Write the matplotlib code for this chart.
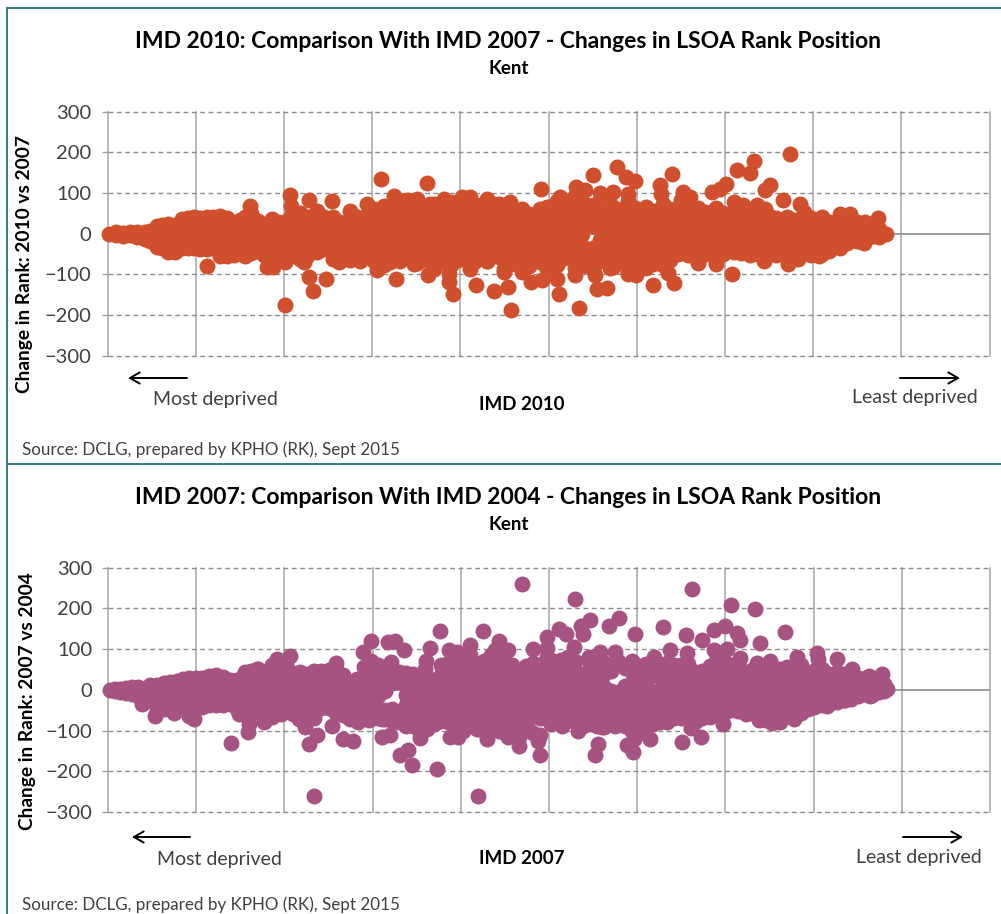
import matplotlib
matplotlib.use("Agg")
import matplotlib.pyplot as plt
from matplotlib.lines import Line2D

plt.rcParams['font.family'] = ['Lato', 'DejaVu Sans']

W, H = 1001, 914

yticks = [-300, -200, -100, 0, 100, 200, 300]
xgrid = [0, 100, 200, 300, 400, 500, 600, 700, 800, 900, 1000]

# points that stand clear of the main band, IMD 2010 vs 2007
imd2010_outer = [
    (201, -175), (207, 94), (208, 67), (228, 84), (255, 80), (162, 68), (113, -80), (229, -107), (248, -111),
    (233, -142), (310, 135), (362, 125), (325, 93), (327, -111), (305, -89), (418, -125), (438, -141),
    (392, -149), (387, -119), (387, -98), (363, -102), (411, -86), (402, 90), (411, 90), (430, 86), (438, 74),
    (381, 86), (351, 86), (340, 82), (366, 74), (188, -82), (181, -82), (223, -70), (201, -70), (262, -70),
    (286, -66), (347, -74), (421, -57), (430, -66), (774, 197), (733, 180), (714, 157), (728, 149), (640, 148),
    (550, 145), (578, 164), (588, 139), (598, 130), (492, 111), (531, 116), (541, 107), (558, 100), (573, 102),
    (590, 98), (626, 120), (628, 98), (653, 102), (660, 90), (685, 102), (694, 111), (701, 121), (710, 78),
    (721, 70), (736, 70), (745, 61), (751, 119), (745, 107), (766, 82), (785, 74), (830, 49), (842, 49),
    (859, 29), (874, 39), (883, 0), (513, 90), (456, 78), (471, 57), (500, 66), (458, -187), (535, -182),
    (512, -149), (454, -130), (555, -135), (566, -133), (480, -119), (493, -113), (510, -111), (530, -102),
    (553, -101), (619, -127), (642, -121), (636, -97), (599, -102), (590, -98), (708, -100), (670, -72),
    (690, -74), (744, -66), (772, -74), (783, -61), (807, -56), (830, -33), (855, -20), (728, -53), (647, -49),
    (626, -66), (470, -94), (449, -94), (502, -82), (573, -82),
]

# main band read column by column: x, then the changes seen at that x
imd2010_band = [
    (2, [0]), (10, [-3, 3]), (18, [2, -6]), (26, [-4, 4]), (34, [3, -8]), (42, [-2, 5, -14]), (48, [6, -18]),
    (56, [18, -8, -32]), (62, [22, -5, -22, -36]), (69, [25, 0, -25, -46]), (76, [22, -8, -30, -44]),
    (84, [36, 10, -15, -36]), (91, [38, 14, -12, -35]), (98, [40, 12, -14, -34]), (105, [38, 10, -18, -38]),
    (113, [40, 14, -12, -38]), (120, [42, 16, -10, -36]), (128, [43, 18, -8, -34, -54]),
    (135, [38, 10, -18, -45, -55]), (143, [27, 0, -26, -52]), (150, [34, 8, -18, -44]),
    (156, [40, 14, -12, -38, -56]), (163, [50, 24, -2, -28, -48]), (171, [32, 6, -20, -42]),
    (178, [20, -6, -30, -52]), (186, [35, 9, -17, -43, -70]), (193, [30, 2, -24, -50, -68]),
    (200, [30, 4, -22, -48, -64]), (208, [44, 18, -8, -34, -55]), (218, [52, 26, 0, -26, -50, -62]),
    (226, [40, 14, -12, -38, -55]), (237, [56, 30, 4, -22, -46]), (245, [40, 14, -12, -38]),
    (256, [40, 14, -12, -38, -62]), (264, [30, 4, -22, -48]), (275, [56, 30, 4, -22, -48, -64]),
    (283, [42, 16, -10, -36, -60]), (294, [72, 46, 20, -6, -32, -58]), (302, [60, 34, 8, -18, -44, -68]),
    (313, [68, 42, 16, -10, -36, -62, -76]), (320, [55, 29, 3, -23, -49, -70]),
    (332, [80, 54, 28, 2, -24, -50, -68]), (340, [66, 40, 14, -12, -38, -60]),
    (351, [80, 54, 28, 2, -24, -50, -72]), (358, [66, 40, 14, -12, -38, -64]),
    (370, [72, 46, 20, -6, -32, -58, -86]), (378, [60, 34, 8, -18, -44, -70]),
    (389, [78, 52, 26, 0, -26, -52, -78]), (397, [66, 40, 14, -12, -38, -64]),
    (408, [78, 52, 26, 0, -26, -60]), (416, [66, 40, 14, -12, -38, -70]), (423, [70, 44, 18, -8, -34, -58]),
    (430, [78, 52, 26, 0, -26, -68]),
    (438, [66, 40, 14, -14, -40]), (444, [72, 46, 20, -6, -32, -58]), (450, [70, 44, 18, -8, -34, -60, -88]),
    (458, [56, 30, 4, -22, -48, -74]),
    (470, [60, 34, 8, -18, -44, -70, -88]), (478, [48, 22, -4, -30, -56, -80]),
    (490, [60, 34, 8, -18, -44, -70]), (498, [66, 40, 14, -12, -38, -64, -86]),
    (510, [80, 54, 28, 2, -24, -50, -76]), (518, [70, 44, 18, -8, -34, -60]),
    (530, [92, 66, 40, 14, -10, -34, -60, -85]), (538, [80, 54, 28, 0, -30, -56, -80]),
    (550, [70, 44, 18, -36, -62, -86]), (558, [62, 36, 10, -16, -42, -68]),
    (570, [72, 46, 20, -6, -32, -58, -84]), (578, [60, 34, 8, -18, -44, -70]),
    (590, [80, 54, 28, 2, -24, -50, -76, -94]), (598, [64, 38, 12, -14, -40, -66, -88]),
    (610, [66, 40, 14, -12, -38, -64, -84]), (618, [56, 30, 4, -22, -48, -74]),
    (630, [72, 46, 20, -6, -32, -58, -76]), (638, [60, 34, 8, -18, -44, -64]),
    (650, [84, 58, 32, 6, -20, -46]), (658, [70, 44, 18, -8, -34, -52]), (670, [64, 38, 12, -14, -40, -66]),
    (678, [54, 28, 2, -24, -50]), (690, [64, 38, 12, -14, -40, -66]), (698, [50, 24, -2, -28, -50]),
    (710, [56, 30, 4, -22, -46]), (718, [46, 20, -6, -32, -48]), (730, [54, 28, 2, -24, -50]),
    (738, [46, 20, -6, -32, -50]), (750, [44, 18, -8, -34, -50]), (758, [38, 12, -14, -40, -52]),
    (770, [40, 14, -12, -38, -60]), (778, [34, 8, -18, -44, -58]), (790, [54, 28, 2, -24, -50]),
    (798, [38, 12, -14, -40, -52]), (810, [40, 14, -12, -38, -50]), (818, [30, 4, -22, -42]),
    (830, [36, 10, -16, -34]), (838, [28, 2, -24]), (850, [30, 4, -18]), (858, [22, -4, -22]),
    (868, [18, -6]), (875, [12, -8]),
]

# same again for IMD 2007 vs 2004
imd2007_outer = [
    (140, -130), (159, -104), (160, -84), (177, -80), (196, -59), (149, -59), (97, -71), (75, -57), (53, -65),
    (39, -34), (192, 76), (206, 82), (169, 52), (155, 43), (258, 66), (228, -133), (237, -111), (223, -92),
    (217, -71), (254, -88), (234, -260), (266, -120), (278, -125), (298, 120), (289, 93), (317, 117), (325, 121),
    (336, 98), (321, 68), (311, -115), (320, -112), (331, -161), (340, -147), (345, -184), (373, -194),
    (419, -260), (376, 144), (425, 144), (365, 102), (361, 72), (359, 52), (387, 97), (396, 94), (410, 109),
    (439, 98), (443, 121), (354, -118), (388, -116), (397, -116), (405, -92), (420, -80), (430, -120),
    (443, -100), (283, -80), (296, -75), (311, -71), (469, 259), (530, 224), (662, 247), (706, 209), (734, 199),
    (768, 142), (739, 115), (597, 138), (629, 154), (655, 135), (579, 176), (568, 157), (547, 172), (536, 158),
    (539, 138), (511, 150), (519, 138), (498, 130), (454, 98), (482, 101), (498, 102), (528, 105), (674, 123),
    (687, 146), (699, 156), (713, 139), (716, 123), (687, 97), (702, 101), (637, 98), (657, 90), (619, 80),
    (575, 93), (558, 93), (545, 80), (804, 90), (827, 76), (805, 76), (781, 80), (751, 72), (736, 66), (843, 52),
    (863, 35), (878, 38), (883, 2), (717, 79), (490, -159), (466, -137), (487, -126), (453, -115), (552, -161),
    (555, -133), (595, -153), (589, -135), (596, -120), (614, -120), (651, -129), (672, -115), (661, -94),
    (697, -84), (723, -59), (533, -100), (515, -88), (502, -84), (479, -100), (460, -100), (560, -92), (575, -88),
    (738, -75), (753, -82), (762, -80), (778, -71), (800, -43), (815, -39), (836, -26), (864, -16),
]

imd2007_band = [
    (2, [0]), (8, [2, -3]), (14, [3, -6]), (20, [5, -8]), (27, [6, -10]), (34, [6, -14]), (41, [3, -8, -20, -30]),
    (48, [12, -6, -24]), (56, [13, -8, -30, -50]), (63, [18, -4, -26, -48]), (70, [20, -2, -24, -46]),
    (78, [22, 0, -22, -44]), (85, [26, 2, -22, -46]), (92, [28, 4, -20, -44, -64]), (100, [28, 4, -20, -44]),
    (107, [30, 6, -18, -42]), (115, [34, 10, -14, -38]), (122, [36, 12, -12, -38]), (130, [32, 8, -16, -38]),
    (138, [25, 2, -20, -34]), (146, [25, 0, -24, -48]), (154, [36, 10, -16, -42, -60]),
    (162, [46, 20, -6, -32, -60]), (170, [50, 24, -2, -28, -54]), (178, [44, 18, -8, -34, -62]),
    (186, [60, 34, 8, -18, -44, -66]), (194, [70, 44, 18, -8, -34, -58]), (202, [60, 34, 8, -18, -44]),
    (210, [42, 16, -10, -36, -60]), (218, [44, 18, -8, -34, -60]), (226, [40, 14, -12, -38, -64]),
    (234, [46, 20, -6, -32, -58, -70]), (242, [46, 20, -6, -30, -44]), (250, [48, 22, -4, -30, -44]),
    (258, [50, 24, -2, -26, -58]), (266, [36, 10, -14, -38, -62]), (274, [20, -2, -24, -48, -72]),
    (282, [26, 4, -20, -44, -66]), (290, [56, 30, 6, -18, -42, -60]), (298, [70, 44, 18, -10, -36, -60]),
    (306, [62, 36, 10, -14, -50, -70]), (314, [48, 22, -4, -50, -72]), (322, [44, 18, -48, -76]),
    (330, [44, 20, -54, -80]), (338, [42, 16, -12, -38, -64, -90]), (346, [40, 14, -10, -36, -62, -90]),
    (354, [20, -4, -30, -56, -82, -104]), (362, [32, 6, -20, -46, -72, -96]), (370, [20, -6, -32, -58, -84]),
    (378, [62, 36, 10, -16, -42, -76]), (386, [66, 40, 14, -12, -50, -80]), (394, [58, 32, 6, -20, -46, -74, -96]),
    (402, [62, 36, 10, -16, -42, -70, -100]), (410, [86, 60, 34, 8, -18, -44, -76]),
    (418, [64, 38, 12, -14, -40, -66, -95]), (426, [70, 44, 18, -8, -34, -60, -100]),
    (434, [86, 60, 34, 8, -18, -44, -70, -92]), (442, [84, 58, 32, 6, -20, -46, -72, -96]),
    (450, [64, 38, 12, -14, -40, -66, -92, -105]), (458, [60, 34, 8, -18, -44, -70, -90]),
    (466, [40, 14, -12, -38, -64, -90, -115]), (474, [58, 32, 6, -20, -46, -80]),
    (482, [66, 40, 14, -12, -38, -64, -105]), (490, [62, 36, 10, -16, -42, -70, -110]),
    (498, [80, 54, 28, 2, -24, -50, -72]), (506, [70, 44, 18, -8, -34, -60, -80]),
    (514, [74, 48, 22, -4, -30, -56, -82]), (522, [80, 54, 28, 0, -30, -56]),
    (530, [72, 46, 20, -6, -32, -58, -80]), (538, [40, 14, -12, -38, -64, -88]),
    (546, [64, 38, 12, -14, -40, -66, -84]), (554, [60, 34, 8, -18, -44, -70, -90]),
    (562, [66, 40, 6, -20, -46, -72, -92]), (570, [46, -4, -30, -56, -82]), (578, [70, -6, -32, -58, -84]),
    (586, [54, 10, -16, -42, -68, -88]), (594, [70, 44, 18, -8, -34, -60, -100]),
    (602, [58, 32, -4, -30, -56, -82, -105]), (610, [64, 38, 12, -14, -40, -66, -90]),
    (618, [62, 36, -6, -32, -58, -84]), (626, [56, 30, -4, -30, -56, -80]),
    (634, [66, 40, 14, -12, -38, -64, -80]), (642, [60, 34, 8, -18, -44, -70]),
    (650, [60, 34, 8, -18, -44, -68]), (658, [64, 38, 12, -14, -40, -66]), (666, [44, 18, -8, -34, -60, -78]),
    (674, [46, 20, -6, -32, -58, -70]), (682, [58, 32, 6, -20, -46, -66]), (690, [80, 54, 28, 2, -24, -50]),
    (698, [70, 44, 18, -8, -34, -56]), (706, [60, 34, 8, -18, -40, -50]), (714, [64, 38, 12, -14, -40, -52]),
    (722, [44, 18, -8, -34, -56]), (730, [48, 22, -4, -30, -56]), (738, [52, 26, 0, -26, -52, -70]),
    (746, [48, 22, -4, -30, -56, -74]), (754, [56, 30, 4, -22, -48, -76]), (762, [50, 24, -2, -28, -54, -72]),
    (770, [56, 30, 4, -22, -48, -64]), (778, [52, 26, 0, -26, -52, -66]), (786, [62, 36, 10, -16, -42, -56]),
    (794, [40, 14, -12, -38, -46]), (802, [48, 22, -4, -30, -40]), (810, [52, 26, 0, -26, -36]),
    (818, [38, 12, -14, -34]), (826, [44, 18, -8, -30]), (834, [40, 14, -12, -26]), (842, [36, 10, -16, -22]),
    (850, [30, 4, -14]), (858, [28, 6, -10]), (866, [24, 0, -12]), (874, [22, 2, -6]), (880, [14, -4]),
]

ORANGE = '#D0502E'
PURPLE = '#A65382'
TEAL = '#2E7F82'
TEXT = '#404040'

fig = plt.figure(figsize=(W / 100, H / 100), dpi=100, facecolor='white')

# full size layer in pixels, for the captions and the frame
page = fig.add_axes([0, 0, 1, 1], zorder=5)
page.set_xlim(0, W)
page.set_ylim(H, 0)
page.axis('off')
page.patch.set_alpha(0)


def flatten(outer, band):
    xs = [p[0] for p in outer]
    ys = [p[1] for p in outer]
    for x, vals in band:
        for v in vals:
            xs.append(x)
            ys.append(v)
    return xs, ys


def draw_panel(left, right, top, bottom, outer, band, colour):
    ax = fig.add_axes([left / W, 1 - bottom / H, (right - left) / W, (bottom - top) / H])
    ax.set_xlim(0, 1000)
    ax.set_ylim(-300, 300)
    for g in xgrid:
        ax.axvline(g, color='#ABABAB', lw=1.2, zorder=1, clip_on=False)
    for t in yticks:
        if t != 0:
            ax.axhline(t, color='#8C8C8C', lw=1.0, ls=(0, (3.5, 2.5)), zorder=1, clip_on=False)
    ax.axhline(0, color='#8C8C8C', lw=1.2, zorder=1)
    xs, ys = flatten(outer, band)
    ax.scatter(xs, ys, s=132, color=colour, linewidths=0, zorder=3, clip_on=False)
    for s in ax.spines.values():
        s.set_visible(False)
    ax.set_xticks([])
    ax.set_yticks(yticks)
    ax.tick_params(axis='y', length=4.5, width=1.0, color='#A0A0A0', pad=7, labelsize=14.5, labelcolor=TEXT)
    ax.patch.set_alpha(0)
    return ax


def captions(title, title_y, ylabel, ylabel_x, ylabel_y, xlabel, arrow_y, left_arrow, right_arrow,
             most_x, most_y, least_x, least_y, xlabel_y, source_y):
    page.text(508, title_y, title, ha='center', va='center', fontsize=16.5, fontweight='bold', color='black')
    page.text(509, title_y + 27, 'Kent', ha='center', va='center', fontsize=13.5, fontweight='bold', color='black')
    page.text(ylabel_x, ylabel_y, ylabel, rotation=90, ha='center', va='center', fontsize=13.8,
              fontweight='bold', color='black')
    page.text(522, xlabel_y, xlabel, ha='center', va='center', fontsize=13.5, fontweight='bold', color='black')
    page.text(most_x, most_y, 'Most deprived', ha='left', va='center', fontsize=14, color=TEXT)
    page.text(least_x, least_y, 'Least deprived', ha='left', va='center', fontsize=14, color=TEXT)
    page.text(22, source_y, 'Source: DCLG, prepared by KPHO (RK), Sept 2015', ha='left', va='center',
              fontsize=12.25, color=TEXT)
    page.annotate('', xy=(left_arrow[0], arrow_y), xytext=(left_arrow[1], arrow_y),
                  arrowprops=dict(arrowstyle='->,head_length=0.7,head_width=0.4', color='black', lw=1.4,
                                  shrinkA=0, shrinkB=0))
    page.annotate('', xy=(right_arrow[1], arrow_y), xytext=(right_arrow[0], arrow_y),
                  arrowprops=dict(arrowstyle='->,head_length=0.7,head_width=0.4', color='black', lw=1.4,
                                  shrinkA=0, shrinkB=0))


draw_panel(107.5, 989.5, 111.7, 355.7, imd2010_outer, imd2010_band, ORANGE)
draw_panel(108, 990, 567.7, 812, imd2007_outer, imd2007_band, PURPLE)

captions('IMD 2010: Comparison With IMD 2007 - Changes in LSOA Rank Position', 42,
         'Change in Rank: 2010 vs 2007', 25, 264, 'IMD 2010', 378, (128, 187), (900, 960),
         153, 400, 852, 398, 404, 450)
captions('IMD 2007: Comparison With IMD 2004 - Changes in LSOA Rank Position', 498,
         'Change in Rank: 2007 vs 2004', 28, 701, 'IMD 2007', 837, (132, 190), (903, 963),
         157, 859, 856, 858, 859, 905)

# frame around the pasted charts, open on the right
for xs, ys in [((6.5, 6.5), (8, H)), ((6.5, W), (8, 8)), ((6.5, W), (464, 464))]:
    page.add_line(Line2D(xs, ys, color=TEAL, lw=1.4))

fig.savefig('out.png', dpi=100)
